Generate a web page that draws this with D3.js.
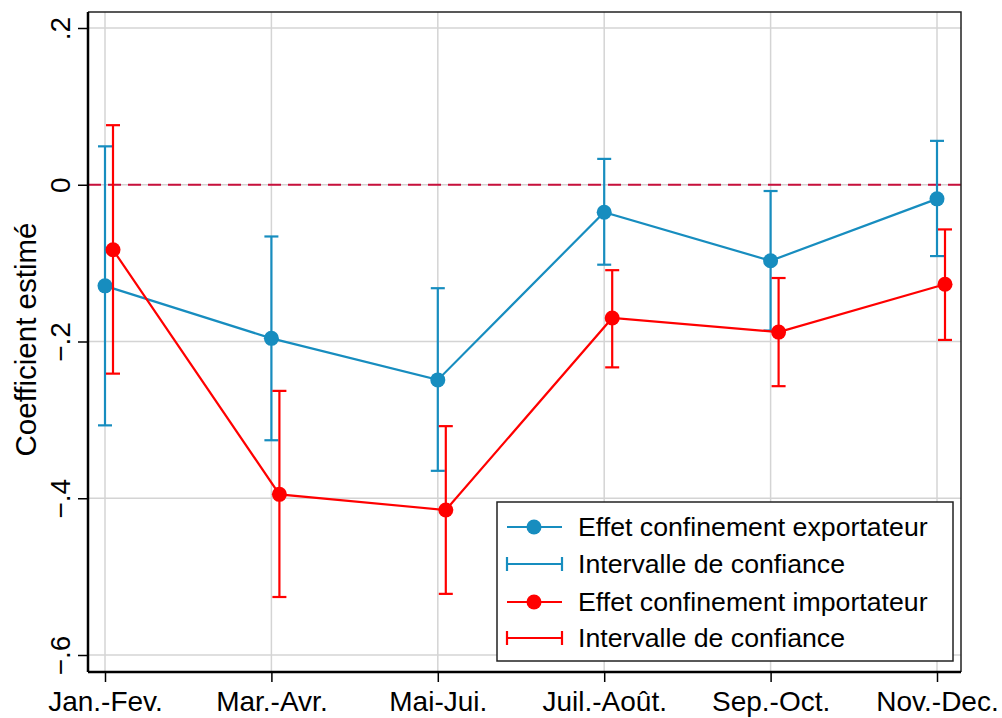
<!DOCTYPE html>
<html>
<head>
<meta charset="utf-8">
<script src="https://cdn.jsdelivr.net/npm/d3@7"></script>
<style>
  body { margin: 0; background: #fff; }
  text { font-family: "Liberation Sans", Arial, sans-serif; fill: #000; }
</style>
</head>
<body>
<div id="chart"></div>
<script>
// categories and values
var periods = ["Jan.-Fev.", "Mar.-Avr.", "Mai-Jui.", "Juil.-Août.", "Sep.-Oct.", "Nov.-Dec."];
var exportCoef = [-0.129, -0.196, -0.249, -0.035, -0.097, -0.018];
var exportLow  = [-0.307, -0.326, -0.365, -0.102, -0.186, -0.091];
var exportHigh = [0.049, -0.066, -0.132, 0.033, -0.008, 0.056];
var importCoef = [-0.083, -0.395, -0.415, -0.170, -0.188, -0.127];
var importLow  = [-0.241, -0.526, -0.522, -0.233, -0.257, -0.198];
var importHigh = [0.076, -0.263, -0.308, -0.109, -0.119, -0.057];
var yTicks = [0.2, 0, -0.2, -0.4, -0.6];
var legendLabels = ["Effet confinement exportateur", "Intervalle de confiance",
                    "Effet confinement importateur", "Intervalle de confiance"];

var blue = "#178dbf", red = "#ff0000";

// plot box
var width = 1002, height = 718;
var box = {left: 88, right: 961, top: 12, bottom: 672};

var svg = d3.select("#chart")
  .append("svg")
    .attr("width", width)
    .attr("height", height);

var x = d3.scalePoint()
  .domain(periods)
  .range([105, 937]);

var y = d3.scaleLinear()
  .domain([-0.6, 0.2])
  .range([655, 28]);

var offset = 8; // importer series drawn a little to the right

// grid
svg.append("g")
  .selectAll("line.vg")
  .data(periods)
  .enter().append("line")
    .attr("x1", function(d) { return x(d); })
    .attr("x2", function(d) { return x(d); })
    .attr("y1", box.top)
    .attr("y2", box.bottom)
    .attr("stroke", "#d4d4d4")
    .attr("stroke-width", 1.5);
svg.append("g")
  .selectAll("line.hg")
  .data(yTicks)
  .enter().append("line")
    .attr("x1", box.left)
    .attr("x2", box.right)
    .attr("y1", function(d) { return y(d); })
    .attr("y2", function(d) { return y(d); })
    .attr("stroke", "#d4d4d4")
    .attr("stroke-width", 1.5);

// zero reference line
svg.append("line")
  .attr("x1", box.left)
  .attr("x2", box.right)
  .attr("y1", y(0))
  .attr("y2", y(0))
  .attr("stroke", "#c8103c")
  .attr("stroke-width", 2)
  .attr("stroke-dasharray", "13,7");

// frame (top/right lighter)
svg.append("path")
  .attr("d", "M" + box.left + "," + box.top + "H" + box.right + "V" + box.bottom)
  .attr("fill", "none")
  .attr("stroke", "#222")
  .attr("stroke-width", 1.5);

// axes
var yAxis = svg.append("g")
  .attr("transform", "translate(" + box.left + ",0)")
  .call(d3.axisLeft(y).tickValues(yTicks).tickSize(10)
        .tickFormat(function(d) { return d === 0 ? "0" : d3.format(".1f")(d).replace("0.", "."); }));
yAxis.select(".domain").attr("stroke", "#000").attr("stroke-width", 2.5)
  .attr("d", "M0," + box.top + "V" + box.bottom);
yAxis.selectAll(".tick line").attr("stroke", "#000").attr("stroke-width", 1.5);
yAxis.selectAll(".tick text")
  .attr("font-size", 28)
  .attr("transform", "rotate(-90)")
  .attr("x", 0)
  .attr("y", -18)
  .attr("dy", 0)
  .attr("text-anchor", "middle");

var xAxis = svg.append("g")
  .attr("transform", "translate(0," + box.bottom + ")")
  .call(d3.axisBottom(x).tickSize(10).tickPadding(0));
xAxis.select(".domain").attr("stroke", "#000").attr("stroke-width", 2.5)
  .attr("d", "M" + box.left + ",0H" + box.right);
xAxis.selectAll(".tick line").attr("stroke", "#000").attr("stroke-width", 1.5);
xAxis.selectAll(".tick text")
  .attr("font-size", 28)
  .attr("y", 39)
  .attr("dy", 0);

// y title
svg.append("text")
  .attr("transform", "translate(36," + (y(-0.2) - 2) + ") rotate(-90)")
  .attr("text-anchor", "middle")
  .attr("font-size", 29.5)
  .text("Coefficient estimé");

// one series: line, CIs, markers
function drawSeries(coef, low, high, color, dx) {
  var g = svg.append("g");
  g.append("path")
    .datum(periods)
    .attr("fill", "none")
    .attr("stroke", color)
    .attr("stroke-width", 2.2)
    .attr("d", d3.line()
      .x(function(d) { return x(d) + dx; })
      .y(function(d, i) { return y(coef[i]); }));

  var ci = g.selectAll("g.ci").data(periods).enter().append("g");
  ci.append("line")
    .attr("x1", function(d) { return x(d) + dx; })
    .attr("x2", function(d) { return x(d) + dx; })
    .attr("y1", function(d, i) { return y(high[i]); })
    .attr("y2", function(d, i) { return y(low[i]); })
    .attr("stroke", color).attr("stroke-width", 2.2);
  [high, low].forEach(function(arr) {
    ci.append("line")
      .attr("x1", function(d) { return x(d) + dx - 7; })
      .attr("x2", function(d) { return x(d) + dx + 7; })
      .attr("y1", function(d, i) { return y(arr[i]); })
      .attr("y2", function(d, i) { return y(arr[i]); })
      .attr("stroke", color).attr("stroke-width", 2.2);
  });

  g.selectAll("circle")
    .data(periods)
    .enter().append("circle")
      .attr("cx", function(d) { return x(d) + dx; })
      .attr("cy", function(d, i) { return y(coef[i]); })
      .attr("r", 7.5)
      .attr("fill", color);
}

drawSeries(exportCoef, exportLow, exportHigh, blue, 0);
drawSeries(importCoef, importLow, importHigh, red, offset);

// legend
var lg = svg.append("g");
lg.append("rect")
  .attr("x", 497).attr("y", 502)
  .attr("width", 456).attr("height", 159)
  .attr("fill", "#fff")
  .attr("stroke", "#222")
  .attr("stroke-width", 1.5);

var rowY = [527, 564, 602, 638];
var rowColor = [blue, blue, red, red];
legendLabels.forEach(function(lab, i) {
  var yy = rowY[i];
  lg.append("line")
    .attr("x1", 507).attr("x2", 562)
    .attr("y1", yy).attr("y2", yy)
    .attr("stroke", rowColor[i]).attr("stroke-width", 2.2);
  if (i % 2 === 0) {
    lg.append("circle").attr("cx", 534).attr("cy", yy).attr("r", 7.5).attr("fill", rowColor[i]);
  } else {
    [507, 562].forEach(function(xx) {
      lg.append("line")
        .attr("x1", xx).attr("x2", xx)
        .attr("y1", yy - 7).attr("y2", yy + 7)
        .attr("stroke", rowColor[i]).attr("stroke-width", 2.2);
    });
  }
  lg.append("text")
    .attr("x", 578)
    .attr("y", yy + 9)
    .attr("font-size", 26.7)
    .text(lab);
});
</script>
</body>
</html>
